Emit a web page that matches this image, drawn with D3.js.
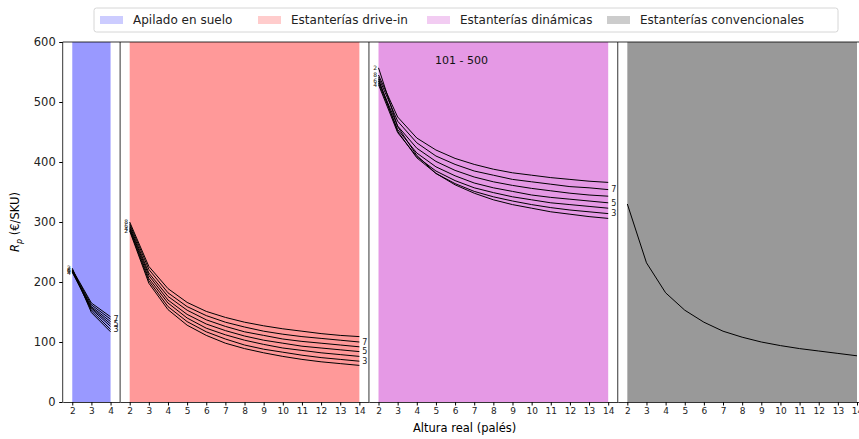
<!DOCTYPE html>
<html>
<head>
<meta charset="utf-8">
<script src="https://cdn.jsdelivr.net/npm/d3@7"></script>
<style>
  body { margin: 0; background: #fff; }
  svg { display: block; font-family: "DejaVu Sans", sans-serif; }
</style>
</head>
<body>
<div id="chart"></div>
<script>
// heights on the x axis (pallets)
const xShort = [2, 3, 4];
const xLong = [2, 3, 4, 5, 6, 7, 8, 9, 10, 11, 12, 13, 14];
// one curve per parameter value
const lineIds = [2, 3, 4, 5, 6, 7, 8];

// Apilado en suelo, one row per lineIds entry
const apiladoVals = [
  [223, 149, 117],
  [219, 152, 121],
  [216, 155, 126],
  [217, 157, 130],
  [218, 159, 134],
  [220, 162, 138],
  [221, 165, 142]
];

// Estanterías drive-in
const driveInVals = [
  [285, 198, 154, 128, 111, 98, 89, 82, 76, 71, 67, 64, 61],
  [287, 202, 159, 134, 117, 105, 95, 88, 83, 78, 74, 71, 68],
  [289, 206, 165, 140, 123, 112, 103, 96, 90, 86, 82, 79, 76],
  [291, 211, 170, 146, 130, 119, 110, 103, 98, 93, 90, 87, 84],
  [294, 215, 176, 153, 137, 126, 117, 111, 105, 101, 98, 95, 92],
  [297, 221, 182, 159, 144, 133, 125, 118, 113, 109, 106, 103, 100],
  [300, 226, 189, 166, 151, 141, 133, 127, 122, 118, 114, 111, 109]
];

// Estanterías dinámicas
const dinamicasVals = [
  [557, 459, 411, 381, 362, 348, 337, 329, 323, 317, 313, 309, 306],
  [538, 451, 407, 381, 364, 351, 342, 335, 329, 324, 320, 317, 314],
  [529, 449, 409, 385, 369, 357, 349, 342, 337, 332, 329, 326, 323],
  [532, 454, 415, 392, 377, 365, 357, 351, 345, 341, 338, 335, 332],
  [535, 460, 423, 401, 386, 375, 367, 361, 356, 352, 348, 345, 343],
  [541, 468, 432, 410, 396, 385, 378, 371, 367, 363, 359, 357, 354],
  [545, 475, 440, 420, 406, 396, 388, 382, 378, 374, 371, 368, 366]
];

// Estanterías convencionales (single curve)
const convencionalesVals = [330, 232, 182, 153, 133, 118, 108, 100, 94, 89, 85, 81, 77];

const legendNames = ["Apilado en suelo", "Estanterías drive-in", "Estanterías dinámicas", "Estanterías convencionales"];
const yTicks = [0, 100, 200, 300, 400, 500, 600];

// panel table built from the arrays above
const panels = [
  { name: legendNames[0], xs: xShort, series: apiladoVals, ids: lineIds, fill: "#9999ff", legend: "#ccccff" },
  { name: legendNames[1], xs: xLong, series: driveInVals, ids: lineIds, fill: "#ff9999", legend: "#ffcccc" },
  { name: legendNames[2], xs: xLong, series: dinamicasVals, ids: lineIds, fill: "#e599e5", legend: "#f2ccf2" },
  { name: legendNames[3], xs: xLong, series: [convencionalesVals], ids: [null], fill: "#999999", legend: "#cccccc" }
];

const width = 859, height = 439;
const plotLeft = 62.7, plotTop = 42, plotBottom = 402;
const unit = 19.14; // px per pallet on every panel

const svg = d3.select("#chart").append("svg")
  .attr("width", width)
  .attr("height", height);

const y = d3.scaleLinear().domain([0, 600]).range([plotBottom, plotTop]);

let x0 = plotLeft;
panels.forEach(function(p, i) {
  const lo = d3.min(p.xs) - 0.5, hi = d3.max(p.xs) + 0.5;
  const x = d3.scaleLinear().domain([lo, hi]).range([x0, x0 + (hi - lo) * unit]);
  const g = svg.append("g");

  // coloured span from first to last height
  g.append("rect")
    .attr("x", x(d3.min(p.xs)))
    .attr("y", plotTop)
    .attr("width", x(d3.max(p.xs)) - x(d3.min(p.xs)))
    .attr("height", plotBottom - plotTop)
    .attr("fill", p.fill);

  // curves
  const line = d3.line()
    .x(function(d, k) { return x(p.xs[k]); })
    .y(function(d) { return y(d); });
  g.selectAll(".curve")
    .data(p.series)
    .enter()
    .append("path")
      .attr("d", function(d) { return line(d); })
      .attr("fill", "none")
      .attr("stroke", "#000")
      .attr("stroke-width", 1);

  // small labels: even ids at the start, odd ids at the end
  p.series.forEach(function(vals, k) {
    const id = p.ids[k];
    if (id === null) return;
    if (id % 2 === 0) {
      g.append("text")
        .attr("x", x(p.xs[0]) - 1.5)
        .attr("y", y(vals[0]))
        .attr("dy", "0.35em")
        .attr("text-anchor", "end")
        .attr("font-size", 6)
        .attr("fill", "#222")
        .text(id);
    } else {
      g.append("text")
        .attr("x", x(p.xs[p.xs.length - 1]) + 3)
        .attr("y", y(vals[vals.length - 1]))
        .attr("dy", "0.35em")
        .attr("font-size", 8)
        .attr("fill", "#222")
        .text(id);
    }
  });

  // x axis
  const ax = g.append("g")
    .attr("transform", `translate(0, ${plotBottom})`)
    .call(d3.axisBottom(x).tickValues(p.xs).tickFormat(d3.format("d"))
      .tickSize(3.5).tickPadding(2.5).tickSizeOuter(0));
  ax.select(".domain").attr("stroke", "#000").attr("stroke-width", 0.8);
  ax.selectAll("text").attr("font-size", 9).attr("font-family", "DejaVu Sans").attr("fill", "#222");

  // left spine and top spine
  g.append("line")
    .attr("x1", x.range()[0]).attr("x2", x.range()[0])
    .attr("y1", plotTop).attr("y2", plotBottom)
    .attr("stroke", "#000").attr("stroke-width", 0.8);
  g.append("line")
    .attr("x1", x.range()[0]).attr("x2", x.range()[1])
    .attr("y1", plotTop).attr("y2", plotTop)
    .attr("stroke", "#000").attr("stroke-width", 0.8);

  if (i === 2) {
    g.append("text")
      .attr("x", 435)
      .attr("y", 64)
      .attr("font-size", 11)
      .attr("fill", "#111")
      .text("101 - 500");
  }

  x0 = x.range()[1];
});

// y axis on first panel
const yAx = svg.append("g")
  .attr("transform", `translate(${plotLeft}, 0)`)
  .call(d3.axisLeft(y).tickValues(yTicks).tickSize(3.5).tickPadding(3.5));
yAx.select(".domain").remove();
yAx.selectAll("text").attr("font-size", 11.5).attr("font-family", "DejaVu Sans").attr("fill", "#222");

// axis titles
svg.append("text")
  .attr("x", (plotLeft + x0) / 2)
  .attr("y", 432)
  .attr("text-anchor", "middle")
  .attr("font-size", 11.5)
  .text("Altura real (palés)");

const yl = svg.append("text")
  .attr("transform", `translate(19, ${(plotTop + plotBottom) / 2}) rotate(-90)`)
  .attr("text-anchor", "middle")
  .attr("font-size", 11.5);
yl.append("tspan").attr("font-style", "italic").text("R");
yl.append("tspan").attr("font-style", "italic").attr("font-size", 8).attr("dy", 3).text("p");
yl.append("tspan").attr("dy", -3).text(" (€/SKU)");

// legend
const legend = svg.append("g");
legend.append("rect")
  .attr("x", 94).attr("y", 8)
  .attr("width", 744).attr("height", 24)
  .attr("rx", 2.5)
  .attr("fill", "#fff")
  .attr("stroke", "#d6d6d6");
const legendX = [100, 258, 427, 607];
panels.forEach(function(p, i) {
  legend.append("rect")
    .attr("x", legendX[i]).attr("y", 16)
    .attr("width", 23).attr("height", 8)
    .attr("fill", p.legend);
  legend.append("text")
    .attr("x", legendX[i] + 33)
    .attr("y", 20)
    .attr("dy", "0.35em")
    .attr("font-size", 12)
    .attr("fill", "#222")
    .text(p.name);
});
</script>
</body>
</html>
